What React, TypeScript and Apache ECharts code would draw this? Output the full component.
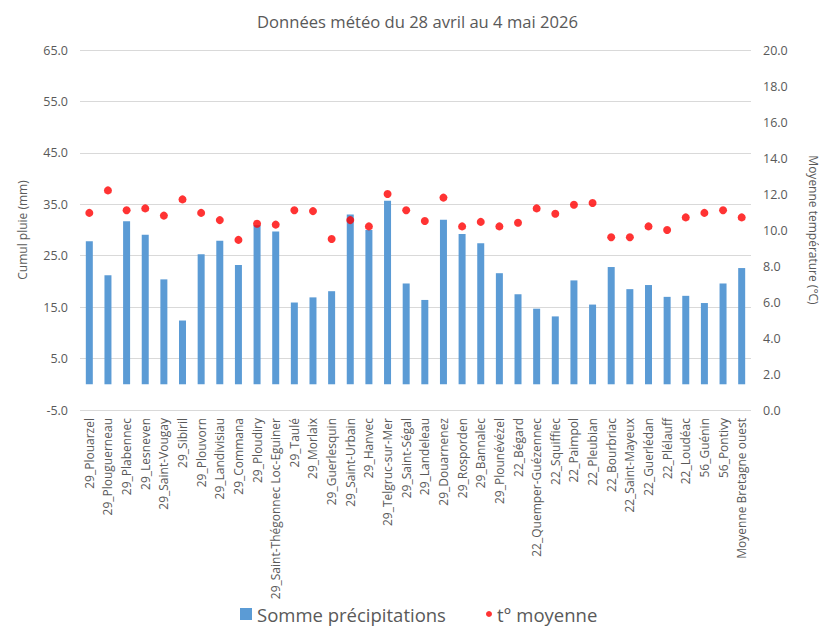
import React, { useEffect, useRef } from "react";
import * as echarts from "echarts";

const categories = [
  "29_Plouarzel", "29_Plouguerneau", "29_Plabennec", "29_Lesneven", "29_Saint-Vougay",
  "29_Sibiril", "29_Plouvorn", "29_Landivisiau", "29_Commana", "29_Ploudiry",
  "29_Saint-Thégonnec Loc-Eguiner", "29_Taulé", "29_Morlaix", "29_Guerlesquin",
  "29_Saint-Urbain", "29_Hanvec", "29_Telgruc-sur-Mer", "29_Saint-Ségal", "29_Landeleau",
  "29_Douarnenez", "29_Rosporden", "29_Bannalec", "29_Plounévézel", "22_Bégard",
  "22_Quemper-Guézennec", "22_Squiffiec", "22_Paimpol", "22_Pleubian", "22_Bourbriac",
  "22_Saint-Mayeux", "22_Guerlédan", "22_Plélauff", "22_Loudéac", "56_Guénin",
  "56_Pontivy", "Moyenne Bretagne ouest",
];

const rainfall = [
  27.8, 21.2, 31.7, 29.1, 20.4, 12.4, 25.3, 27.9, 23.2, 30.9,
  29.7, 15.9, 16.9, 18.1, 33.0, 30.0, 35.7, 19.6, 16.4, 32.0,
  29.2, 27.4, 21.6, 17.5, 14.7, 13.2, 20.2, 15.5, 22.8, 18.5,
  19.3, 17.0, 17.2, 15.8, 19.6, 22.6,
];

const temperature = [
  10.95, 12.2, 11.1, 11.2, 10.8, 11.7, 10.95, 10.55, 9.45, 10.35,
  10.3, 11.1, 11.05, 9.5, 10.55, 10.2, 12.0, 11.1, 10.5, 11.8,
  10.2, 10.45, 10.2, 10.4, 11.2, 10.9, 11.4, 11.5, 9.6, 9.6,
  10.2, 10.0, 10.7, 10.95, 11.1, 10.7,
];

const FONT = "'Open Sans', 'Noto Sans', sans-serif";
const GREY = "#595959";

export default function App() {
  const ref = useRef<HTMLDivElement>(null);
  useEffect(() => {
    if (!ref.current) return;
    const chart = echarts.init(ref.current, null, { renderer: "svg" });
    const legendText = { fontFamily: FONT, fontSize: 18.5, color: GREY, lineHeight: 22 };
    chart.setOption({
      animation: false,
      textStyle: { fontFamily: FONT },
      title: {
        text: "Données météo du 28 avril au 4 mai 2026",
        left: "center",
        top: 0,
        textStyle: { fontFamily: FONT, fontSize: 16.6, fontWeight: "normal", color: GREY },
      },
      legend: [
        {
          left: 232,
          top: 595,
          padding: 0,
          itemWidth: 12,
          itemHeight: 12,
          textStyle: legendText,
          data: [{ name: "Somme précipitations", icon: "rect" }],
        },
        {
          left: 478,
          top: 595,
          padding: 0,
          itemWidth: 6,
          itemHeight: 6,
          textStyle: legendText,
          data: [{ name: "t° moyenne", icon: "circle" }],
        },
      ],
      grid: { left: 64, right: 62, top: 42, bottom: 219, containLabel: false },
      xAxis: {
        type: "category",
        data: categories,
        axisLine: { show: false, onZero: false },
        axisTick: { show: false },
        axisLabel: {
          rotate: 90,
          interval: 0,
          fontSize: 12,
          color: GREY,
          fontFamily: FONT,
          margin: 8,
        },
      },
      yAxis: [
        {
          type: "value",
          min: -5,
          max: 65,
          interval: 10,
          name: "Cumul pluie (mm)",
          nameLocation: "middle",
          nameGap: 52,
          nameRotate: 90,
          nameTextStyle: { fontSize: 12, color: GREY, fontFamily: FONT },
          axisLine: { show: false },
          axisTick: { show: false },
          axisLabel: {
            fontSize: 12.5,
            color: GREY,
            fontFamily: FONT,
            margin: 12,
            formatter: (v: number) => v.toFixed(1),
          },
          splitLine: { lineStyle: { color: "#d9d9d9", width: 1 } },
        },
        {
          type: "value",
          min: 0,
          max: 20,
          interval: 2,
          name: "Moyenne température (°C)",
          nameLocation: "middle",
          nameGap: 56,
          nameRotate: -90,
          nameTextStyle: { fontSize: 12, color: GREY, fontFamily: FONT },
          axisLine: { show: false },
          axisTick: { show: false },
          axisLabel: {
            fontSize: 12.5,
            color: GREY,
            fontFamily: FONT,
            margin: 12,
            formatter: (v: number) => v.toFixed(1),
          },
          splitLine: { show: false },
        },
      ],
      series: [
        {
          name: "Somme précipitations",
          type: "bar",
          yAxisIndex: 0,
          data: rainfall,
          barWidth: 7,
          itemStyle: { color: "#5b9bd5" },
        },
        {
          name: "t° moyenne",
          type: "scatter",
          yAxisIndex: 1,
          data: temperature,
          symbol: "circle",
          symbolSize: 8,
          itemStyle: { color: "#ff0000" },
        },
      ],
    });
    return () => chart.dispose();
  }, []);
  return <div ref={ref} style={{ width: 819, height: 621 }} />;
}
